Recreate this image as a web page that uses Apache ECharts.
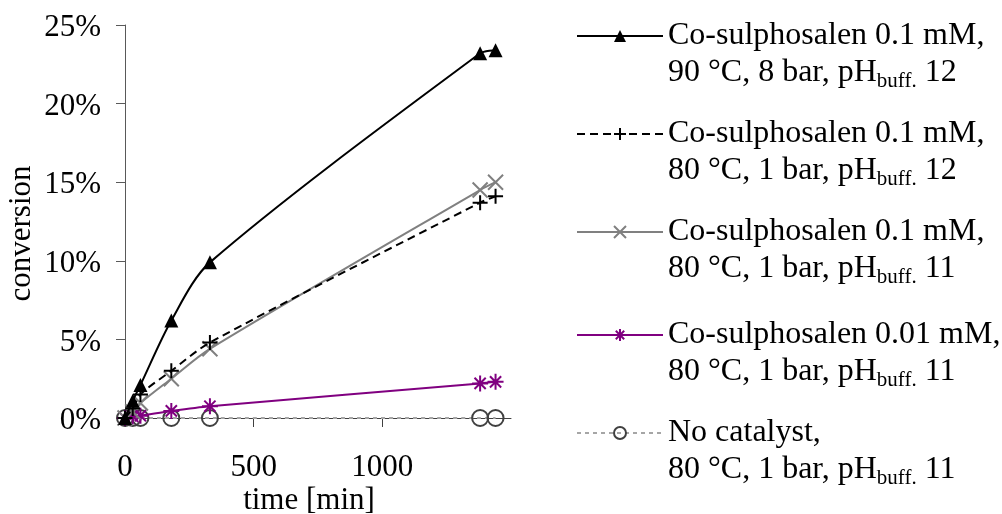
<!DOCTYPE html>
<html>
<head>
<meta charset="utf-8">
<script src="https://cdn.jsdelivr.net/npm/echarts@6/dist/echarts.min.js"></script>
<style>html,body{margin:0;padding:0;background:#fff;}#c{width:1002px;height:514px;}</style>
</head>
<body>
<div id="c"></div>
<script>
// ---- data ----
const timeMin = [0, 30, 60, 180, 330, 1380, 1440];
const conv90C8bar12 = [0, 1.1, 2.1, 6.2, 9.9, 23.2, 23.4];
const conv80C1bar12 = [0, 0.6, 1.5, 3.0, 4.8, 13.7, 14.1];
const conv80C1bar11 = [0, 0.4, 0.95, 2.5, 4.4, 14.5, 15.0];
const conv001mM11 = [0, 0.1, 0.15, 0.45, 0.75, 2.2, 2.3];
const convNoCat = [0, 0, 0, 0, 0, 0, 0];
const seriesNames = [
  'Co-sulphosalen 0.1 mM, 90 °C, 8 bar, pH buff. 12',
  'Co-sulphosalen 0.1 mM, 80 °C, 1 bar, pH buff. 12',
  'Co-sulphosalen 0.1 mM, 80 °C, 1 bar, pH buff. 11',
  'Co-sulphosalen 0.01 mM, 80 °C, 1 bar, pH buff. 11',
  'No catalyst, 80 °C, 1 bar, pH buff. 11'
];
const legendLine1 = ['Co-sulphosalen 0.1 mM,', 'Co-sulphosalen 0.1 mM,', 'Co-sulphosalen 0.1 mM,', 'Co-sulphosalen 0.01 mM,', 'No catalyst,'];
const legendLine2 = ['90 °C, 8 bar, pH', '80 °C, 1 bar, pH', '80 °C, 1 bar, pH', '80 °C, 1 bar, pH', '80 °C, 1 bar, pH'];
const legendSub = ['buff.', 'buff.', 'buff.', 'buff.', 'buff.'];
const legendPH = [' 12', ' 12', ' 11', ' 11', ' 11'];
const xTicks = [0, 500, 1000];

// ---- chart ----
const FONT = 'Liberation Serif';
const pair = (arr) => timeMin.map((t, i) => [t, arr[i] / 100]);
const PLUS = 'path://M0,-10L0,10M-10,0L10,0';
const CROSS = 'path://M-10,-10L10,10M-10,10L10,-10';
const STAR = 'path://M0,-10L0,10M-10,0L10,0M-7,-7L7,7M-7,7L7,-7';

const series = [
  {data: conv90C8bar12, color: '#000', symbol: 'triangle', size: 14, lineType: 'solid', fill: '#000', border: 0},
  {data: conv80C1bar12, color: '#000', symbol: PLUS, size: 15, lineType: [8, 5], fill: 'rgba(0,0,0,0)', border: 2},
  {data: conv80C1bar11, color: '#808080', symbol: CROSS, size: 15, lineType: 'solid', fill: 'rgba(0,0,0,0)', border: 2},
  {data: conv001mM11, color: '#800080', symbol: STAR, size: 16, lineType: 'solid', fill: 'rgba(0,0,0,0)', border: 2},
  {data: convNoCat, color: '#a6a6a6', symbol: 'circle', size: 16, lineType: [4, 4], fill: 'rgba(0,0,0,0)', border: 2, symColor: '#404040'}
].map((s, i) => ({
  type: 'line',
  name: seriesNames[i],
  data: pair(s.data),
  smooth: 0.3,
  symbol: s.symbol,
  symbolSize: s.size,
  showAllSymbol: true,
  z: 10 - i,
  lineStyle: {color: s.color, width: 2, type: s.lineType},
  itemStyle: {
    color: s.fill,
    borderColor: s.symColor || s.color,
    borderWidth: s.border
  },
  emphasis: {disabled: true}
}));

const LH = 37;
const legendTops = [33, 131, 229, 332, 430];
const legends = seriesNames.map((n, i) => ({
  data: [n],
  left: 576,
  top: legendTops[i] - 13,
  padding: 0,
  itemWidth: 86,
  itemHeight: 15,
  itemGap: 0,
  selectedMode: false,
  textStyle: {
    padding: [LH, 0, 0, 0],
    rich: {
      a: {fontFamily: FONT, fontSize: 32, lineHeight: LH, color: '#000'},
      s: {fontFamily: FONT, fontSize: 21, lineHeight: 26, verticalAlign: 'bottom', color: '#000'}
    }
  },
  formatter: () => `{a|${legendLine1[i]}}\n{a|${legendLine2[i]}}{s|${legendSub[i]}}{a|${legendPH[i]}}`
}));

const chart = echarts.init(document.getElementById('c'), null, {renderer: 'canvas'});
chart.setOption({
  animation: false,
  backgroundColor: '#fff',
  grid: {left: 125, top: 25, width: 386, height: 393, containLabel: false, outerBoundsMode: 'none'},
  legend: legends,
  xAxis: {
    type: 'value', min: 0, max: 1500, interval: 500,
    name: 'time [min]', nameLocation: 'middle', nameGap: 67, nameMoveOverlap: false,
    nameTextStyle: {fontFamily: FONT, fontSize: 31, color: '#000', padding: [0, 18, 0, 0]},
    axisLine: {onZero: false, lineStyle: {color: '#404040', width: 1}},
    axisTick: {show: true, length: 9, customValues: xTicks, lineStyle: {color: '#404040'}},
    axisLabel: {customValues: xTicks, fontFamily: FONT, fontSize: 31, color: '#000', margin: 34,
      formatter: v => String(v)},
    splitLine: {show: false}
  },
  yAxis: {
    type: 'value', min: 0, max: 0.25, interval: 0.05,
    name: 'conversion', nameLocation: 'middle', nameGap: 88, nameMoveOverlap: false,
    nameTextStyle: {fontFamily: FONT, fontSize: 31, color: '#000', padding: [0, 24, 0, 0]},
    axisLine: {show: true, lineStyle: {color: '#595959', width: 1}},
    axisTick: {show: true, length: 9, lineStyle: {color: '#595959'}},
    axisLabel: {margin: 24,
      formatter: v => '{p|' + Math.round(v * 100) + '%}',
      rich: {p: {fontFamily: FONT, fontSize: 31, color: '#000', padding: [6, 0, 0, 0]}}},
    splitLine: {show: false}
  },
  series: series
});
</script>
</body>
</html>
